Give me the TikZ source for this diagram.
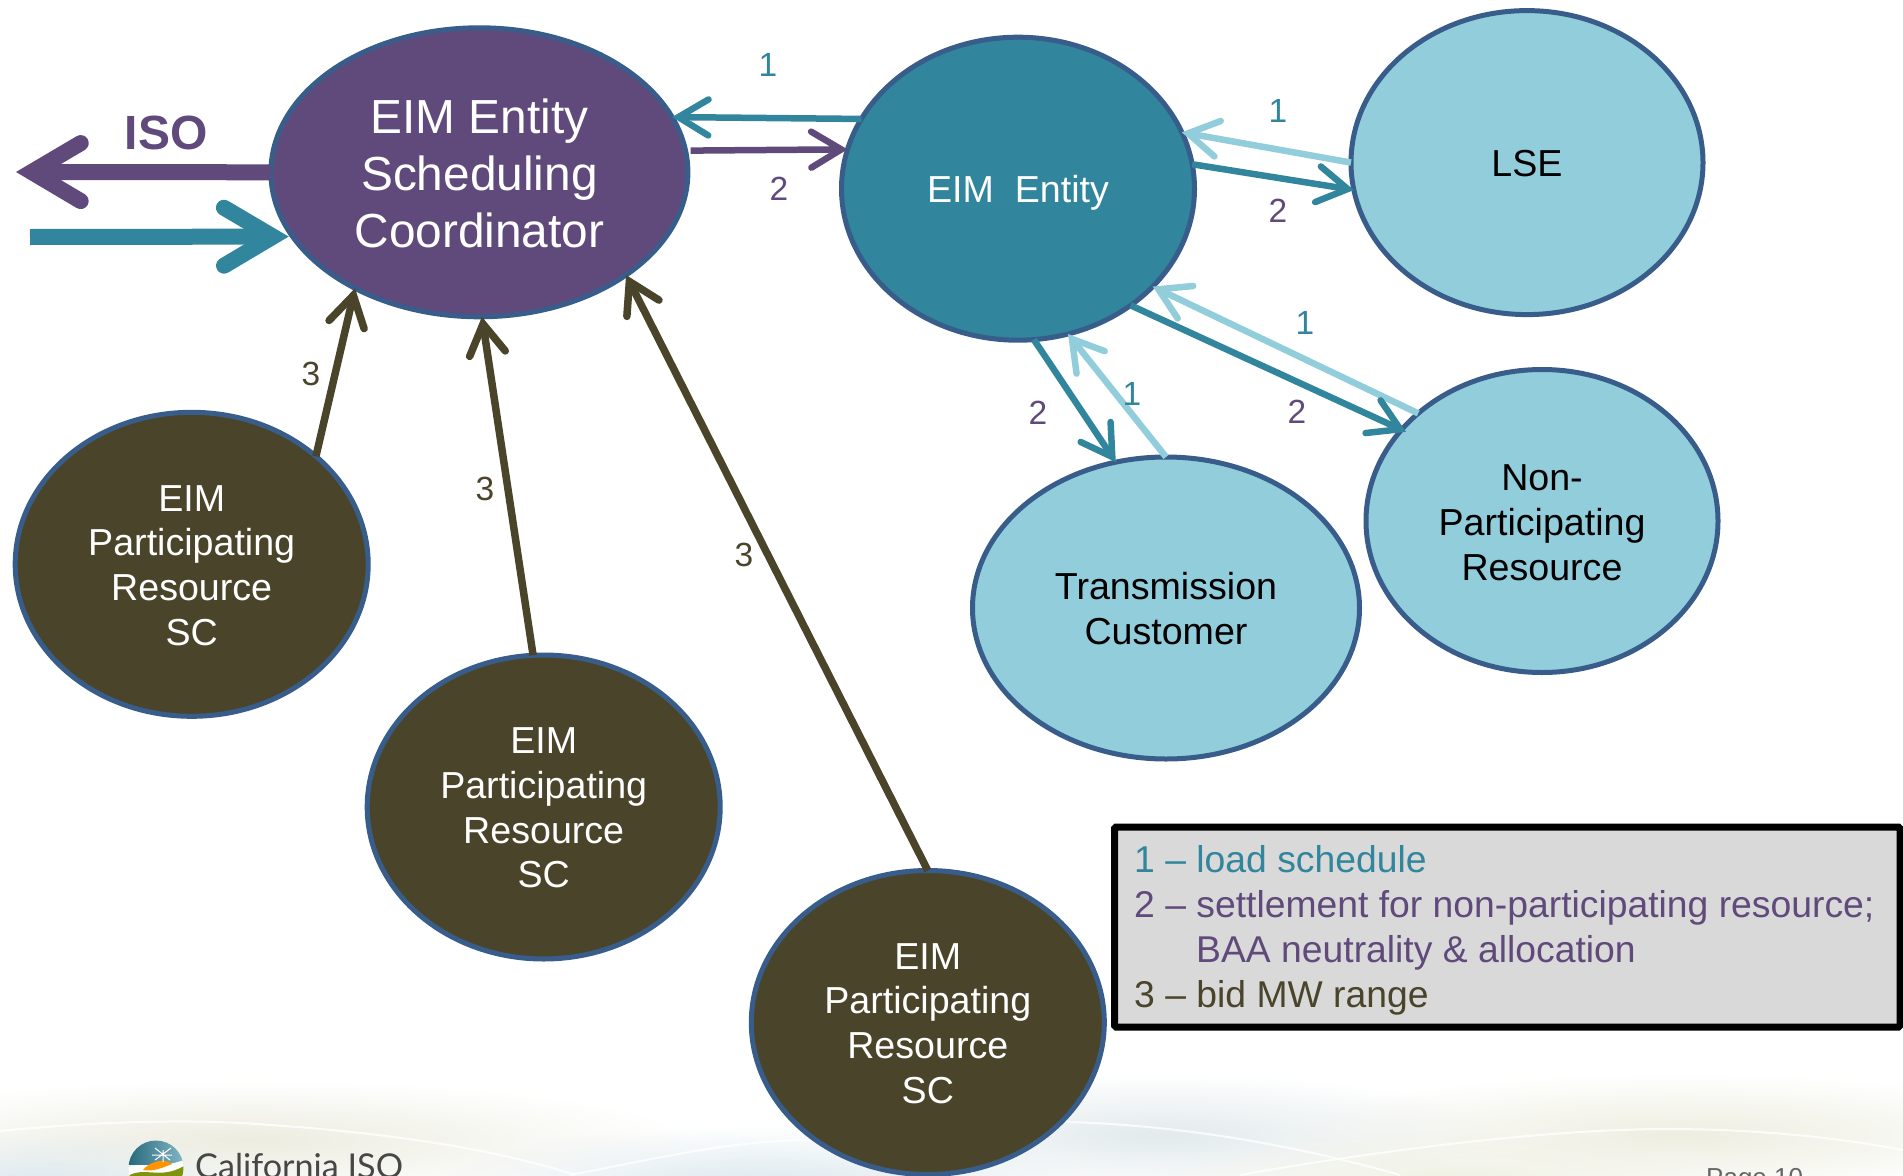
\documentclass[tikz,border=0pt]{standalone}
\usepackage{fontspec}
\setmainfont{Liberation Sans}
\newfontfamily\logofont{Lato}
\usetikzlibrary{shapes.geometric,arrows.meta,fadings}
\definecolor{cpurple}{HTML}{604A7B}
\definecolor{cteal}{HTML}{31859C}
\definecolor{clight}{HTML}{92CDDC}
\definecolor{colive}{HTML}{4A452A}
\definecolor{cedge}{HTML}{385D8A}
\definecolor{cgrey}{HTML}{D9D9D9}
\definecolor{fleft}{HTML}{ECECE0}
\definecolor{fblue}{HTML}{E2EAEC}
\definecolor{fright}{HTML}{EDEDE0}
\definecolor{fbot}{HTML}{DCE8EE}
\definecolor{fwarm}{HTML}{EFF0E2}
\tikzfading[name=softblob, inner color=transparent!0, outer color=transparent!100]
\newcommand{\firstline}[1]{\rule{0pt}{#1}}
\tikzset{
  bubble/.style={ellipse, draw=cedge, line width=5pt, inner sep=0pt, outer sep=0pt, align=center,
    minimum width=288pt, minimum height=248pt, font=\fontsize{37.6}{44.7}\selectfont},
  coordbubble/.style={bubble, fill=cpurple, text=white, font=\fontsize{47.8}{57}\selectfont},
  entitybubble/.style={bubble, fill=cteal, text=white},
  partybubble/.style={bubble, fill=clight, text=black},
  scbubble/.style={bubble, fill=colive, text=white},
  bigarrow/.style={line cap=butt, line width=16pt, -{Straight Barb[length=49pt,width=58pt,line cap=round,line join=miter]}},
  smallarrow/.style={line cap=butt, line width=6.5pt, -{Straight Barb[length=30pt,width=36pt,line cap=round,line join=miter]}},
  oliveline/.style={line cap=butt, color=colive, line width=7.5pt, -{Straight Barb[length=30pt,width=36pt,line cap=round,line join=miter]}},
  numlabel/.style={font=\fontsize{33.5}{40}\selectfont, inner sep=0pt},
  swoosh/.style={white, line width=2pt, opacity=.8},
  blob/.style={path fading=softblob, fill=#1, draw=none}
}
\begin{document}
\begin{tikzpicture}[x=1pt,y=-1pt]
\useasboundingbox (0,0) rectangle (1903,1175);
\clip (0,0) rectangle (1903,1175);
% footer
\fill[blob=fleft] (250,1140) ellipse (440 and 60);
\fill[blob=fblue] (1160,1135) ellipse (340 and 62);
\fill[blob=fright] (1680,1135) ellipse (400 and 62);
\fill[blob=fbot] (760,1185) ellipse (330 and 60);
\fill[blob=fbot] (40,1185) ellipse (220 and 55);
\fill[blob=fwarm] (1440,1185) ellipse (280 and 55);
\draw[swoosh] (0,1131) .. controls (90,1122) and (190,1118) .. (270,1125) .. controls (390,1133) and (500,1150) .. (575,1175);
\draw[swoosh] (570,1175) .. controls (650,1160) and (730,1140) .. (810,1140);
\draw[swoosh] (1000,1122) .. controls (1120,1118) and (1260,1135) .. (1400,1175);
\draw[swoosh] (1240,1175) .. controls (1380,1150) and (1550,1129) .. (1667,1129) .. controls (1760,1129) and (1840,1138) .. (1903,1150);
% logo
\begin{scope}
\clip (156,1168) circle (27.5);
\shade[left color=cteal!80!black, right color=cteal!60!white] (128,1140) rectangle (184,1164);
\fill[white] (128,1168) .. controls (140,1160) and (150,1172) .. (184,1160) -- (184,1200) -- (128,1200) -- cycle;
\fill[orange!85!yellow] (143,1170) .. controls (150,1161) and (165,1158) .. (172,1164) .. controls (162,1168) and (152,1172) .. (143,1170) -- cycle;
\fill[olive!75!green] (128,1176) .. controls (145,1166) and (160,1180) .. (184,1166) -- (184,1200) -- (128,1200) -- cycle;
\draw[white, line width=1pt] (163,1150) -- (163,1162) (152,1155) -- (172,1155) (155,1148) -- (170,1160) (171,1148) -- (155,1160);
\end{scope}
\node[anchor=base west, inner sep=0pt, text=black!72, font=\logofont\fontsize{34.2}{40}\selectfont] (logotext) at (195,1178) {California ISO};
\node[anchor=base west, inner sep=0pt, text=black!60, font=\fontsize{26}{30}\selectfont] (pagenum) at (1706,1186) {Page 10};
% nodes
\node[coordbubble, minimum width=417pt, minimum height=289pt] (coord) at (479.4,172.3) {\firstline{36pt}EIM Entity\\Scheduling\\Coordinator};
\node[entitybubble, minimum width=353pt, minimum height=303pt, text height=28pt, text depth=0pt] (entity) at (1018,188.7) {EIM\ \ Entity};
\node[partybubble, minimum width=352pt, minimum height=304pt, text height=28pt, text depth=0pt] (lse) at (1527,162.6) {LSE};
\node[partybubble, minimum width=352pt, minimum height=303pt] (np) at (1542,521) {\firstline{29.5pt}Non-\\Participating\\Resource};
\node[partybubble, minimum width=387pt, minimum height=302pt] (tc) at (1166,608) {\firstline{29pt}Transmission\\Customer};
\node[scbubble, minimum width=353pt, minimum height=304pt] (sca) at (191.7,564.3) {\firstline{28pt}EIM\\Participating\\Resource\\SC};
\node[scbubble, minimum width=353pt, minimum height=304pt] (scb) at (543.7,807) {\firstline{28pt}EIM\\Participating\\Resource\\SC};
\node[scbubble, minimum width=353pt, minimum height=304pt] (scc) at (927.8,1022.5) {\firstline{28pt}EIM\\Participating\\Resource\\SC};
% free ends
\coordinate (isoout) at (16,172);
\coordinate (isoin) at (30,237);
% connectors
\draw[bigarrow, color=cpurple] (coord.180) -- (isoout);
\draw[bigarrow, color=cteal, shorten >=4pt] (isoin) -- (coord.199.6);
\draw[smallarrow, color=cteal] (entity.156) -- (coord.16.6);
\draw[smallarrow, color=cpurple, shorten <=5pt] (coord.6) -- (entity.167.5);
\draw[smallarrow, color=clight] (lse.180) -- (entity.19.8);
\draw[smallarrow, color=cteal] (entity.8.4) -- (lse.189.9);
\draw[smallarrow, color=clight] (np.139.2) -- (entity.-36.7);
\draw[smallarrow, color=cteal, shorten >=-5pt] (entity.-46.5) -- (np.147.5);
\draw[smallarrow, color=clight] (tc.90.4) -- (entity.-71.2);
\draw[smallarrow, color=cteal] (entity.-84) -- (tc.109.2);
\draw[oliveline] (sca.41.3) -- (coord.223.6);
\draw[oliveline] (scb.94.5) -- (coord.271);
\draw[oliveline] (scc.90) -- (coord.325);
% labels
\node[anchor=base, inner sep=0pt, text=cpurple, font=\bfseries\fontsize{48}{50}\selectfont] (isolabel) at (166,149) {ISO};
\node[numlabel, text=cteal] (n1) at (768,65) {1};
\node[numlabel, text=cpurple] (n2) at (779,189) {2};
\node[numlabel, text=cteal] (n3) at (1278,111) {1};
\node[numlabel, text=cpurple] (n4) at (1278,211) {2};
\node[numlabel, text=cteal] (n5) at (1305,323) {1};
\node[numlabel, text=cpurple] (n6) at (1297,412) {2};
\node[numlabel, text=cteal] (n7) at (1132,394) {1};
\node[numlabel, text=cpurple] (n8) at (1038,413) {2};
\node[numlabel, text=colive] (n9) at (311,374) {3};
\node[numlabel, text=colive] (n10) at (485,489) {3};
\node[numlabel, text=colive] (n11) at (744,555) {3};
% legend
\draw[line width=7pt, draw=black, fill=cgrey, rounded corners=1.5pt] (1114.5,827) rectangle (1900,1027);
\begin{scope}[every node/.style={anchor=base west, inner sep=0pt, font=\fontsize{37.3}{45}\selectfont}]
\node[text=cteal] (la) at (1134,872) {1 – load schedule};
\node[text=cpurple] (lb) at (1134,917) {2 – settlement for non-participating resource;};
\node[text=cpurple] (lc) at (1196,962) {BAA neutrality \& allocation};
\node[text=colive] (ld) at (1134,1007) {3 – bid MW range};
\end{scope}
\end{tikzpicture}
\end{document}
